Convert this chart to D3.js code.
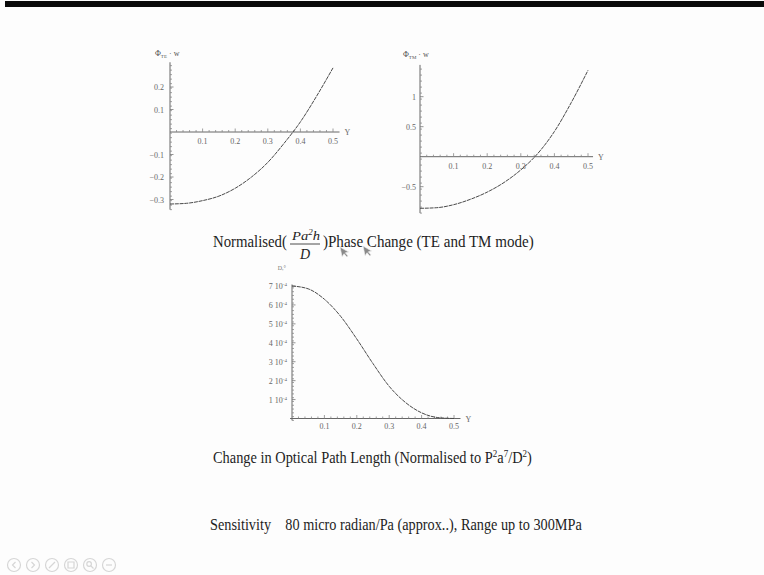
<!DOCTYPE html>
<html>
<head>
<meta charset="utf-8">
<script src="https://cdn.jsdelivr.net/npm/d3@7"></script>
<style>
  body { margin: 0; background: #fdfdfd; }
  svg { display: block; font-family: 'Liberation Serif', 'Times New Roman', serif; }
</style>
</head>
<body>
<script>
// normalised radius (Y) samples
var gammaX = [0, 0.05, 0.1, 0.15, 0.2, 0.25, 0.3, 0.35, 0.4, 0.45, 0.5];
var phaseTE = [-0.32, -0.317, -0.305, -0.285, -0.25, -0.2, -0.135, -0.05, 0.045, 0.16, 0.285];
var phaseTM = [-0.86, -0.85, -0.8, -0.71, -0.59, -0.43, -0.22, 0.05, 0.42, 0.9, 1.44];
var pathChange = [7.0, 6.85, 6.3, 5.4, 4.2, 2.9, 1.7, 0.85, 0.3, 0.05, 0.0];

var xTicks = [0.1, 0.2, 0.3, 0.4, 0.5];
var teTicks = [0.2, 0.1, -0.1, -0.2, -0.3];
var tmTicks = [1, 0.5, -0.5];
var oplTicks = [1, 2, 3, 4, 5, 6, 7];

var width = 764,
  height = 575;

var svg = d3.select('body').append('svg')
  .attr('width', width)
  .attr('height', height);

svg.append('rect')
  .attr('width', width)
  .attr('height', height)
  .style('fill', '#fdfdfd');

// black strip on top of the slide
svg.append('rect')
  .attr('x', 5)
  .attr('y', 1)
  .attr('width', width - 5)
  .attr('height', 6)
  .style('fill', '#0a0a0a');

function drawPanel(opt) {
  var x = d3.scaleLinear().domain([0, 0.5]).range(opt.xRange);
  var y = d3.scaleLinear().domain(opt.yDomain).range(opt.yRange);
  var g = svg.append('g');
  var y0 = y(0);

  // axes
  g.append('line')
    .attr('x1', x(opt.xStart)).attr('x2', x(opt.xEnd))
    .attr('y1', y0).attr('y2', y0)
    .style('stroke', '#666').style('stroke-width', 1);
  g.append('line')
    .attr('x1', x(0)).attr('x2', x(0))
    .attr('y1', y(opt.yLow)).attr('y2', y(opt.yHigh))
    .style('stroke', '#666').style('stroke-width', 1);

  // minor + major ticks on x
  var xt = d3.range(0.02, opt.xEnd, 0.02);
  g.selectAll('.xt').data(xt).enter().append('line')
    .attr('x1', function(d) { return x(d); })
    .attr('x2', function(d) { return x(d); })
    .attr('y1', y0)
    .attr('y2', function(d, i) { return y0 - ((i + 1) % 5 == 0 ? 3.5 : 2); })
    .style('stroke', '#888').style('stroke-width', 0.8);

  var yt = d3.range(opt.yLow, opt.yHigh, opt.yMinor).filter(function(d) { return Math.abs(d) > 1e-6; });
  g.selectAll('.yt').data(yt).enter().append('line')
    .attr('x1', x(0))
    .attr('x2', x(0) + 2)
    .attr('y1', function(d) { return y(d); })
    .attr('y2', function(d) { return y(d); })
    .style('stroke', '#888').style('stroke-width', 0.8);
  g.selectAll('.ytm').data(opt.yTicks).enter().append('line')
    .attr('x1', x(0))
    .attr('x2', x(0) + 3.5)
    .attr('y1', function(d) { return y(d); })
    .attr('y2', function(d) { return y(d); })
    .style('stroke', '#777').style('stroke-width', 0.8);

  // tick labels
  g.selectAll('.xl').data(xTicks).enter().append('text')
    .attr('x', function(d) { return x(d); })
    .attr('y', y0 + opt.xLabelDy)
    .attr('text-anchor', 'middle')
    .style('font-size', '8px')
    .style('fill', '#666')
    .text(function(d) { return d3.format('.1f')(d); });

  var yl = g.selectAll('.yl').data(opt.yTicks).enter().append('text')
    .attr('x', x(0) - opt.yLabelGap)
    .attr('y', function(d) { return y(d) + 3; })
    .attr('text-anchor', 'end')
    .style('font-size', '8px')
    .style('fill', '#666');
  opt.yFormat(yl);

  g.append('text')
    .attr('x', x(opt.xEnd) + 5)
    .attr('y', y0 + 3)
    .style('font-size', '8px')
    .style('fill', '#666')
    .text('Y');

  // curve
  var line = d3.line()
    .x(function(d, i) { return x(gammaX[i]); })
    .y(function(d) { return y(d); })
    .curve(d3.curveMonotoneX);

  g.append('path')
    .attr('d', line(opt.values))
    .style('fill', 'none')
    .style('stroke', '#4a4a4a')
    .style('stroke-width', 1)
    .style('stroke-dasharray', '4,0.8');

  return g;
}

var te = drawPanel({
  xRange: [170, 333], xStart: 0, xEnd: 0.52,
  yDomain: [-0.3, 0.2], yRange: [199.5, 87], yLow: -0.345, yHigh: 0.31, yMinor: 0.02,
  yTicks: teTicks, values: phaseTE, xLabelDy: 12, yLabelGap: 6,
  yFormat: function(s) { s.text(function(d) { return d3.format('.1f')(d); }); }
});

var tm = drawPanel({
  xRange: [420, 588], xStart: 0, xEnd: 0.515,
  yDomain: [-0.5, 1], yRange: [186.7, 96.7], yLow: -0.94, yHigh: 1.53, yMinor: 0.1,
  yTicks: tmTicks, values: phaseTM, xLabelDy: 12, yLabelGap: 4,
  yFormat: function(s) { s.text(function(d) { return d3.format('')(d); }); }
});

var opl = drawPanel({
  xRange: [292, 454], xStart: -0.006, xEnd: 0.52,
  yDomain: [0, 7], yRange: [418.5, 286], yLow: -0.1, yHigh: 7.08, yMinor: 0.2,
  yTicks: oplTicks, values: pathChange, xLabelDy: 10, yLabelGap: 5,
  yFormat: function(s) {
    s.append('tspan').text(function(d) { return d + ' 10'; });
    s.append('tspan').attr('dy', -3).style('font-size', '5px').text('-4');
  }
});

// y-axis captions
function axisCaption(px, py, sub) {
  var t = svg.append('text')
    .attr('x', px).attr('y', py)
    .style('font-size', '8px')
    .style('fill', '#555');
  t.append('tspan').text('\u03A6');
  t.append('tspan').attr('dy', 2).style('font-size', '5px').text(sub);
  t.append('tspan').attr('dy', -2).text(' \u00B7 w');
}
axisCaption(155, 56, 'TE');
axisCaption(403, 57, 'TM');

svg.append('text')
  .attr('x', 286).attr('y', 270)
  .attr('text-anchor', 'end')
  .style('font-size', '6px')
  .style('fill', '#777')
  .text('D,\u00B0');

// slide text
function fitText(sel, target) {
  var w = sel.node().getComputedTextLength();
  var x0 = +sel.attr('x');
  sel.attr('transform', 'translate(' + x0 + ',0) scale(' + (target / w) + ',1) translate(' + (-x0) + ',0)');
}

var t1 = svg.append('text')
  .attr('x', 213).attr('y', 247)
  .style('font-size', '16px').style('fill', '#1e1e1e')
  .text('Normalised(');
fitText(t1, 74);

var num = svg.append('text')
  .attr('x', 292).attr('y', 240)
  .style('font-size', '13px').style('font-style', 'italic').style('fill', '#1e1e1e');
num.append('tspan').text('Pa');
num.append('tspan').attr('dy', -5).style('font-size', '8px').text('2');
num.append('tspan').attr('dy', 5).text('h');
fitText(num, 28);

svg.append('line')
  .attr('x1', 290).attr('x2', 320)
  .attr('y1', 244).attr('y2', 244)
  .style('stroke', '#1e1e1e').style('stroke-width', 0.8);

svg.append('text')
  .attr('x', 300).attr('y', 259)
  .style('font-size', '14px').style('font-style', 'italic').style('fill', '#1e1e1e')
  .text('D');

var t2 = svg.append('text')
  .attr('x', 323).attr('y', 247)
  .style('font-size', '16px').style('fill', '#1e1e1e')
  .text(')Phase Change (TE and TM mode)');
fitText(t2, 211);

var t3 = svg.append('text')
  .attr('x', 213).attr('y', 463)
  .style('font-size', '16px').style('fill', '#1e1e1e');
t3.append('tspan').text('Change in Optical Path Length (Normalised to P');
t3.append('tspan').attr('dy', -6).style('font-size', '10px').text('2');
t3.append('tspan').attr('dy', 6).text('a');
t3.append('tspan').attr('dy', -6).style('font-size', '10px').text('7');
t3.append('tspan').attr('dy', 6).text('/D');
t3.append('tspan').attr('dy', -6).style('font-size', '10px').text('2');
t3.append('tspan').attr('dy', 6).text(')');
fitText(t3, 319);

var t4 = svg.append('text')
  .attr('x', 210).attr('y', 530)
  .style('font-size', '16px').style('fill', '#1e1e1e')
  .style('white-space', 'pre')
  .text('Sensitivity    80 micro radian/Pa (approx..), Range up to 300MPa');
fitText(t4, 372);

// mouse pointers captured on the slide
var cursor = 'M0,0 L0,10 L2.6,7.4 L4.6,11.2 L6,10.5 L4,6.8 L7.4,6.8 Z';
[[340, 247], [363, 246]].forEach(function(p) {
  svg.append('path')
    .attr('d', cursor)
    .attr('transform', 'translate(' + p[0] + ',' + p[1] + ') rotate(-12)')
    .style('fill', '#8a8a8a')
    .style('stroke', '#eee')
    .style('stroke-width', 0.6);
});

// player controls, bottom left
var icons = svg.append('g').style('stroke', '#d6d6d6').style('fill', 'none').style('stroke-width', 1.2);
d3.range(6).forEach(function(i) {
  var cx = 14 + i * 19, cy = 565;
  icons.append('circle').attr('cx', cx).attr('cy', cy).attr('r', 6.5);
  var d;
  if (i == 0) d = 'M' + (cx + 1.5) + ',' + (cy - 3) + ' L' + (cx - 1.5) + ',' + cy + ' L' + (cx + 1.5) + ',' + (cy + 3);
  if (i == 1) d = 'M' + (cx - 1.5) + ',' + (cy - 3) + ' L' + (cx + 1.5) + ',' + cy + ' L' + (cx - 1.5) + ',' + (cy + 3);
  if (i == 2) d = 'M' + (cx - 3) + ',' + (cy + 3) + ' L' + (cx + 3) + ',' + (cy - 3);
  if (i == 3) d = 'M' + (cx - 3) + ',' + (cy - 3) + ' h6 v6 h-6 Z';
  if (i == 4) d = 'M' + (cx + 1) + ',' + (cy + 1) + ' L' + (cx + 3.5) + ',' + (cy + 3.5) +
    ' M' + (cx - 3.2) + ',' + (cy - 1) + ' a2.3,2.3 0 1,0 4.6,0 a2.3,2.3 0 1,0 -4.6,0';
  if (i == 5) d = 'M' + (cx - 3) + ',' + cy + ' L' + (cx + 3) + ',' + cy;
  icons.append('path').attr('d', d);
});
</script>
</body>
</html>
